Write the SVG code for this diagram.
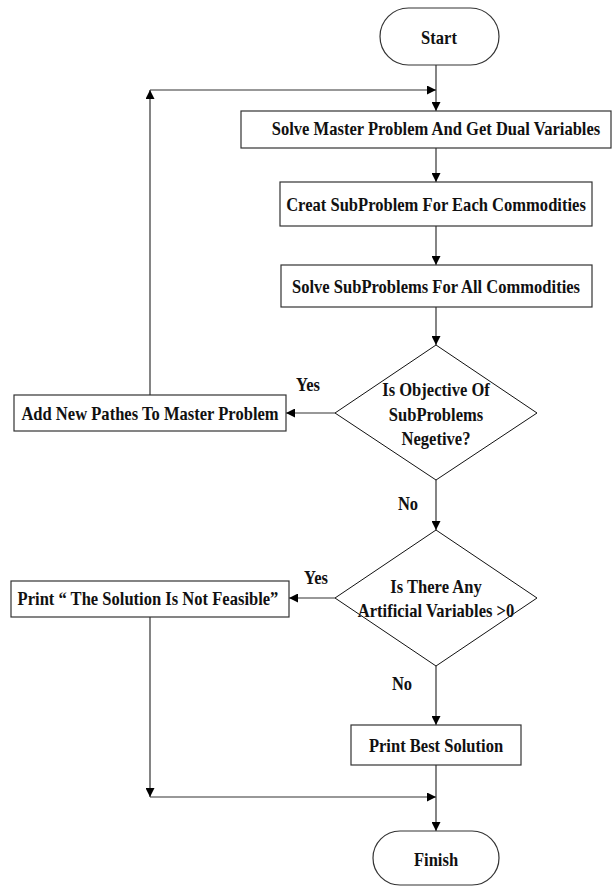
<svg xmlns="http://www.w3.org/2000/svg" width="613" height="887" viewBox="0 0 613 887">
<style>
.box{fill:#fff;stroke:#333;stroke-width:1.2}
.dia{fill:#fff;stroke:#111;stroke-width:1}
.t{font-family:"Liberation Serif","Times New Roman",serif;font-weight:bold;font-size:18px;fill:#111;text-anchor:middle}
.c{fill:none;stroke:#333;stroke-width:1.2;marker-end:url(#ah)}
</style>
<defs>
<marker id="ah" viewBox="0 0 10 10" refX="10" refY="5" markerWidth="9" markerHeight="9" markerUnits="userSpaceOnUse" orient="auto">
<path d="M0,0 L10,5 L0,10 z" fill="#000"/>
</marker>
</defs>
<rect width="613" height="887" fill="#fff"/>
<g id="connectors">
<path class="c" d="M436,65 V111"/>
<path class="c" d="M150,395 V90"/>
<path class="c" d="M150,90 H436"/>
<path class="c" d="M436,148 V182"/>
<path class="c" d="M436,226 V265"/>
<path class="c" d="M436,307 V345"/>
<path class="c" d="M335,413 H286"/>
<path class="c" d="M436,480 V530"/>
<path class="c" d="M335,598 H289"/>
<path class="c" d="M436,666 V725"/>
<path class="c" d="M150,617 V797"/>
<path class="c" d="M150,797 H436"/>
<path class="c" d="M436,765 V831"/>
<text class="t" transform="translate(308,391) scale(0.92,1)">Yes</text>
<text class="t" transform="translate(408,510) scale(0.92,1)">No</text>
<text class="t" transform="translate(316,584) scale(0.92,1)">Yes</text>
<text class="t" transform="translate(402,690) scale(0.92,1)">No</text>
</g>
<g id="start">
<rect class="box" x="380" y="8" width="119" height="57" rx="28.5"/>
<text class="t" transform="translate(439,44) scale(0.92,1)">Start</text>
</g>
<g id="solve-master">
<rect class="box" x="241" y="111" width="370" height="37"/>
<text class="t" transform="translate(436,135) scale(0.92,1)">Solve Master Problem And Get Dual Variables</text>
</g>
<g id="creat-sub">
<rect class="box" x="280" y="182" width="312" height="44"/>
<text class="t" transform="translate(436,211) scale(0.92,1)">Creat SubProblem For Each Commodities</text>
</g>
<g id="solve-sub">
<rect class="box" x="281" y="265" width="311" height="42"/>
<text class="t" transform="translate(436,293) scale(0.92,1)">Solve SubProblems For All Commodities</text>
</g>
<g id="decision-objective">
<polygon class="dia" points="436,345 537,413 436,480 335,413"/>
<text class="t" transform="translate(436,396) scale(0.92,1)">Is Objective Of</text>
<text class="t" transform="translate(436,421) scale(0.92,1)">SubProblems</text>
<text class="t" transform="translate(436,445) scale(0.92,1)">Negetive?</text>
</g>
<g id="add-pathes">
<rect class="box" x="14" y="395" width="272" height="36"/>
<text class="t" transform="translate(150,420) scale(0.92,1)">Add New Pathes To Master Problem</text>
</g>
<g id="decision-artificial">
<polygon class="dia" points="436,530 537,598 436,666 335,598"/>
<text class="t" transform="translate(436,593) scale(0.92,1)">Is There Any</text>
<text class="t" transform="translate(436,617) scale(0.92,1)">Artificial Variables &gt;0</text>
</g>
<g id="print-infeasible">
<rect class="box" x="11" y="581" width="278" height="36"/>
<text class="t" transform="translate(148,605) scale(0.92,1)">Print “ The Solution Is Not Feasible”</text>
</g>
<g id="print-best">
<rect class="box" x="351" y="725" width="170" height="40"/>
<text class="t" transform="translate(436,752) scale(0.92,1)">Print Best Solution</text>
</g>
<g id="finish">
<rect class="box" x="373" y="831" width="126" height="54" rx="27"/>
<text class="t" transform="translate(436,866) scale(0.92,1)">Finish</text>
</g>
</svg>
